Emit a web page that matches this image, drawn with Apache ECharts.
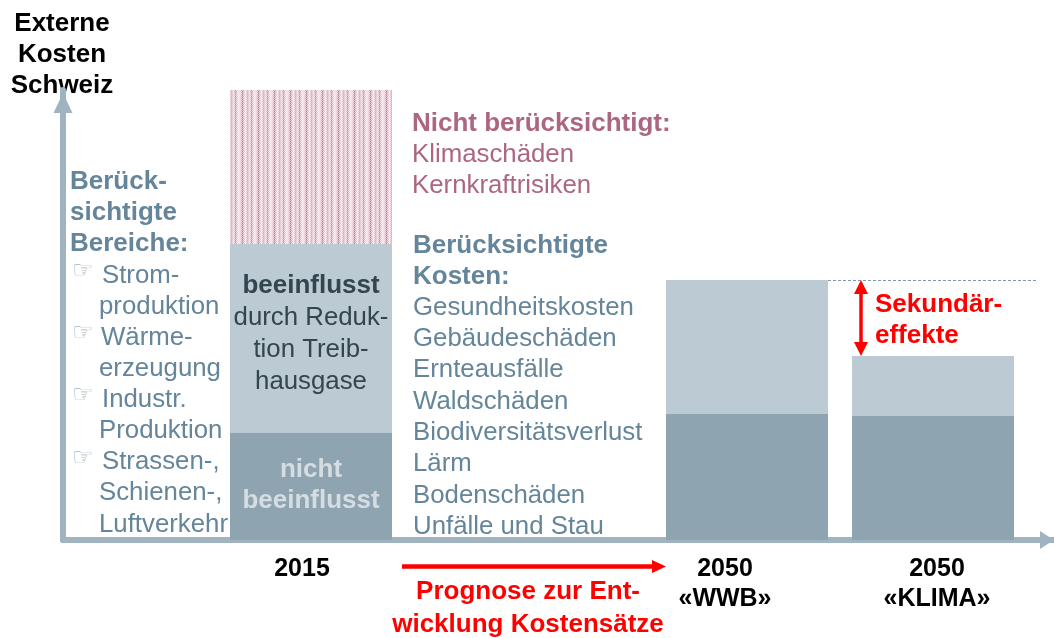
<!DOCTYPE html>
<html><head><meta charset="utf-8">
<style>html,body{margin:0;padding:0;background:#fff}#c{width:1054px;height:638px}</style>
<script src="https://cdn.jsdelivr.net/npm/echarts@6/dist/echarts.min.js"></script>
</head><body><div id="c"></div>
<script>
// data (axis units)
const categories = ['2015', '2050\n«WWB»', '2050\n«KLIMA»'];
const barCenters = [248, 684, 870];
const labelCenters = [239, 662, 874];
const notInfluenced = [107, 126, 124];
const influenced = [189, 134, 60];
const notConsidered = [154, 0, 0];
const FONT = '"Liberation Sans", Arial, sans-serif';
const BLUE = '#64859a', DARK = '#33454f', PINK = '#ad6682', RED = '#ff0000', BLACK = '#000';
const AXIS = '#9fb3c0', LIGHT = '#bccbd3', MID = '#8fa4b1';

// [text, x, y, colour, bold, align]
const texts = [
  ['Externe',62,24,BLACK,1,'center'],['Kosten',62,55,BLACK,1,'center'],['Schweiz',62,86,BLACK,1,'center'],
  ['Berück-',70,182,BLUE,1],['sichtigte',70,213,BLUE,1],['Bereiche:',70,244,BLUE,1],
  ['Strom-',102,276,BLUE],['produktion',99,307,BLUE],['Wärme-',101,338,BLUE],['erzeugung',99,369,BLUE],
  ['Industr.',102,400,BLUE],['Produktion',99,431,BLUE],['Strassen-,',102,462,BLUE],['Schienen-,',99,493,BLUE],['Luftverkehr',99,525,BLUE],
  ['Nicht berücksichtigt:',412,124,PINK,1],['Klimaschäden',412,155,PINK],['Kernkraftrisiken',412,186,PINK],
  ['Berücksichtigte',413,246,BLUE,1],['Kosten:',413,277,BLUE,1],
  ['Gesundheitskosten',413,308,BLUE],['Gebäudeschäden',413,339,BLUE],['Ernteausfälle',413,370,BLUE],['Waldschäden',413,402,BLUE],
  ['Biodiversitätsverlust',413,433,BLUE],['Lärm',413,464,BLUE],['Bodenschäden',413,496,BLUE],['Unfälle und Stau',413,527,BLUE],
  ['Sekundär-',875,305,RED,1],['effekte',875,336,RED,1],
  ['Prognose zur Ent-',528,592,RED,1,'center'],['wicklung Kostensätze',528,625,RED,1,'center']
];
const barTexts = [
  ['beeinflusst',311,286,DARK,1,'center'],['durch Reduk-',311,318,DARK,0,'center'],['tion Treib-',311,350,DARK,0,'center'],['hausgase',311,382,DARK,0,'center'],
  ['nicht',311,470,'#d5dde2',1,'center'],['beeinflusst',311,501,'#d5dde2',1,'center']
];
const hands = [[72,272],[72,334],[72,396],[72,459]];

function hatch(){
  const strength = [.25,.45,.8,.45,.25,.1,.3,.55,.35,.15,.35,.7,.4,.2,.1,.15];
  const c = document.createElement('canvas'); c.width = strength.length; c.height = 4;
  const g = c.getContext('2d');
  g.fillStyle = '#fbf3f6'; g.fillRect(0,0,c.width,4);
  strength.forEach((s,x)=>{
    for (let y=0;y<4;y++){
      g.fillStyle = 'rgba(184,92,125,'+(((x+y)%2)?s:s*.45)+')';
      g.fillRect(x,y,1,1);
    }
  });
  return c;
}
const txt = (t,z) => ({type:'text', z, x:t[1], y:t[2], style:{text:t[0], fill:t[3], font:(t[4]?'bold 26px ':'25.8px ')+FONT, textAlign:t[5]||'left', textVerticalAlign:'middle'}});
const totals = notInfluenced.map((v,i)=>v+influenced[i]);
const pts = a => a.map((v,i)=>[barCenters[i],v]);

const chart = echarts.init(document.getElementById('c'));
chart.setOption({
  animation:false,
  grid:{left:63,right:0,top:90,bottom:98},
  xAxis:{type:'value',min:0,max:991,splitLine:{show:false},axisTick:{show:false},
    axisLine:{show:true,onZero:false,symbol:['none','triangle'],symbolSize:[18,14],symbolOffset:[0,-7],lineStyle:{color:AXIS,width:6}},
    axisLabel:{customValues:labelCenters,margin:14,lineHeight:30,color:BLACK,fontFamily:FONT,fontWeight:'bold',fontSize:25,
      formatter:v=>categories[labelCenters.indexOf(v)]||''}},
  yAxis:{type:'value',min:0,max:450,splitLine:{show:false},axisTick:{show:false},axisLabel:{show:false},
    axisLine:{show:true,symbol:['none','triangle'],symbolSize:[19,20],symbolOffset:[0,-13],lineStyle:{color:AXIS,width:6}}},
  series:[
    {type:'bar',barWidth:162,barGap:'-100%',z:3,itemStyle:{color:{image:hatch(),repeat:'repeat'}},
      data:pts(notConsidered.map((v,i)=>v?v+totals[i]:0))},
    {type:'bar',barWidth:162,barGap:'-100%',z:3,itemStyle:{color:LIGHT},data:pts(totals),
      markLine:{silent:true,symbol:'none',label:{show:false},lineStyle:{color:'#7f9aaa',type:[3,2],width:1},
        data:[[{coord:[barCenters[1]+81,totals[1]]},{coord:[973,totals[1]]}]]}},
    {type:'bar',barWidth:162,barGap:'-100%',z:3,itemStyle:{color:MID},data:pts(notInfluenced),
      markLine:{silent:true,symbol:['triangle','triangle'],symbolSize:[14,14],label:{show:false},lineStyle:{color:RED,type:'solid',width:3.5},
        data:[[{coord:[798,totals[1]-7]},{coord:[798,totals[2]+7]}]]}}
  ],
  graphic:[
    ...texts.map(t=>txt(t,0)),
    ...barTexts.map(t=>txt(t,100)),
    ...hands.map(h=>({type:'text',z:0,x:h[0],y:h[1],style:{text:'\u261E',fill:'#a3b4bd',font:'24px "DejaVu Sans"',textVerticalAlign:'middle'}})),
    {type:'line',z:100,shape:{x1:402,y1:566.5,x2:656,y2:566.5},style:{stroke:RED,lineWidth:4.5}},
    {type:'polygon',z:100,shape:{points:[[652,560],[666,566.5],[652,573]]},style:{fill:RED}}
  ]
});
</script></body></html>
